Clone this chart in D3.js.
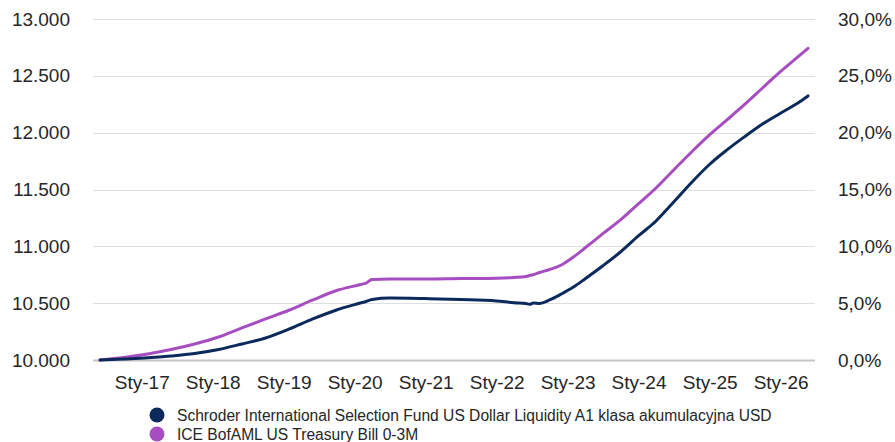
<!DOCTYPE html>
<html>
<head>
<meta charset="utf-8">
<script src="https://cdn.jsdelivr.net/npm/d3@7"></script>
<style>
  html, body { margin: 0; padding: 0; background: #fff; }
  svg { display: block; font-family: "Liberation Sans", Arial, sans-serif; }
</style>
</head>
<body>
<svg id="chart" width="895" height="442"></svg>
<script>
// ---- data ----
const dates = [
  "2016-05-31","2016-09-30","2017-01-31","2017-05-31","2017-09-30","2018-01-31",
  "2018-05-31","2018-09-30","2019-01-31","2019-05-31","2019-09-30","2020-01-31",
  "2020-02-29","2020-03-31","2020-06-30","2020-12-31","2021-06-30","2021-12-31",
  "2022-03-31","2022-05-31","2022-06-20","2022-07-10","2022-08-10","2022-09-30",
  "2022-11-30","2023-01-31","2023-03-31","2023-06-30","2023-09-30","2023-12-31",
  "2024-03-31","2024-06-30","2024-09-30","2024-12-31","2025-03-31","2025-06-30",
  "2025-09-30","2025-12-31","2026-03-31","2026-05-22"
];
const fundValues = [
  10000,10009,10019,10035,10057,10092,
  10141,10194,10273,10361,10440,10501,
  10515,10532,10545,10540,10532,10519,
  10504,10497,10490,10502,10498,10528,
  10581,10642,10713,10827,10950,11091,
  11223,11390,11562,11720,11848,11965,
  12076,12171,12261,12323
];
const benchValues = [
  10000,10022,10053,10092,10141,10202,
  10282,10361,10440,10528,10611,10664,
  10677,10708,10713,10713,10717,10720,
  10726,10735,10743,10752,10770,10796,
  10836,10906,10985,11109,11232,11373,
  11513,11672,11830,11980,12112,12248,
  12393,12537,12666,12742
];
const seriesNames = [
  "Schroder International Selection Fund US Dollar Liquidity A1 klasa akumulacyjna USD",
  "ICE BofAML US Treasury Bill 0-3M"
];
const seriesColors = ["#0b2a5b", "#a64dc1"];
const tickYears = [2017,2018,2019,2020,2021,2022,2023,2024,2025,2026];
const tickLabels = ["Sty-17","Sty-18","Sty-19","Sty-20","Sty-21","Sty-22","Sty-23","Sty-24","Sty-25","Sty-26"];
const leftTicks = [10000,10500,11000,11500,12000,12500,13000];
const leftTickLabels = ["10.000","10.500","11.000","11.500","12.000","12.500","13.000"];
const rightTicks = [0,0.05,0.10,0.15,0.20,0.25,0.30];
const rightTickLabels = ["0,0%","5,0%","10,0%","15,0%","20,0%","25,0%","30,0%"];

// ---- chart ----
const svg = d3.select("#chart");
const parse = d3.timeParse("%Y-%m-%d");
const pts = dates.map((d, i) => ({ date: parse(d), fund: fundValues[i], bench: benchValues[i] }));

const x = d3.scaleTime().domain(d3.extent(pts, d => d.date)).range([100, 808]);
const y = d3.scaleLinear().domain([10000, 13000]).range([360, 19]);
const yR = d3.scaleLinear().domain([0, 0.30]).range([360, 19]);

const gridLeft = 93, gridRight = 815;

// gridlines
svg.append("g").selectAll("line").data(leftTicks).join("line")
  .attr("x1", gridLeft).attr("x2", gridRight)
  .attr("y1", d => Math.round(y(d)) + 0.5).attr("y2", d => Math.round(y(d)) + 0.5)
  .attr("stroke", d => d === 10000 ? "#c6c6c6" : "#dedede")
  .attr("stroke-width", d => d === 10000 ? 2 : 1.2);

// left axis
const yAxisL = d3.axisLeft(y).tickValues(leftTicks)
  .tickFormat((d, i) => leftTickLabels[i]).tickSize(0).tickPadding(0);
const gL = svg.append("g").attr("transform", "translate(70,0)").call(yAxisL);
gL.select(".domain").remove();
gL.selectAll("text").attr("font-size", 19).attr("fill", "#262626")
  .attr("font-family", "Liberation Sans, Arial, sans-serif");

// right axis
const yAxisR = d3.axisRight(yR).tickValues(rightTicks)
  .tickFormat((d, i) => rightTickLabels[i]).tickSize(0).tickPadding(0);
const gR = svg.append("g").attr("transform", "translate(838,0)").call(yAxisR);
gR.select(".domain").remove();
gR.selectAll("text").attr("font-size", 19).attr("fill", "#262626")
  .attr("font-family", "Liberation Sans, Arial, sans-serif");

// x axis
const xAxis = d3.axisBottom(x)
  .tickValues(tickYears.map(yr => new Date(yr, 0, 1)))
  .tickFormat((d, i) => tickLabels[i]).tickSize(0).tickPadding(0);
const gX = svg.append("g").attr("transform", "translate(0,375)").call(xAxis);
gX.select(".domain").remove();
gX.selectAll("text").attr("font-size", 19).attr("fill", "#262626")
  .attr("font-family", "Liberation Sans, Arial, sans-serif");

// lines
const lineFund = d3.line().x(d => x(d.date)).y(d => y(d.fund)).curve(d3.curveMonotoneX);
const lineBench = d3.line().x(d => x(d.date)).y(d => y(d.bench)).curve(d3.curveMonotoneX);

svg.append("path").datum(pts).attr("d", lineBench)
  .attr("fill", "none").attr("stroke", seriesColors[1]).attr("stroke-width", 3)
  .attr("stroke-linejoin", "round").attr("stroke-linecap", "round");
svg.append("path").datum(pts).attr("d", lineFund)
  .attr("fill", "none").attr("stroke", seriesColors[0]).attr("stroke-width", 3)
  .attr("stroke-linejoin", "round").attr("stroke-linecap", "round");

// legend
const legend = svg.append("g");
seriesNames.forEach((name, i) => {
  const cy = 415 + i * 19;
  legend.append("circle").attr("cx", 157).attr("cy", cy).attr("r", 7.5).attr("fill", seriesColors[i]);
  legend.append("text").attr("x", 177).attr("y", cy + 5.5)
    .attr("font-size", 15.6).attr("fill", "#262626").text(name);
});
</script>
</body>
</html>
